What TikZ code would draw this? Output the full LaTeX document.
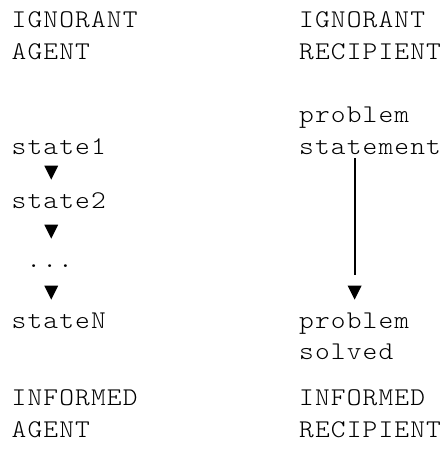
\documentclass[tikz,border=0pt]{standalone}
\usepackage{fontspec}
\setmonofont[FakeStretch=1.1,LetterSpace=4.5]{lmmonolt10-regular.otf}
\usetikzlibrary{shapes.geometric,calc}
\def\cw{15.9}
\begin{document}
\begin{tikzpicture}[x=1pt,y=-1pt,
  txt/.style={anchor=base west,inner sep=0pt,align=left,font=\ttfamily\fontsize{25.5}{31.5}\selectfont},
  tri/.style={isosceles triangle,isosceles triangle apex angle=53.13,shape border rotate=-90,
    fill=black,draw=none,inner sep=0pt,minimum width=14pt,minimum height=14pt},
  stem/.style={line width=1.8pt}]
 \useasboundingbox (0,0) rectangle (444,451);
 \node[txt] (ia) at (11.5,59) {IGNORANT\\AGENT};
 \node[txt] (ir) at (299,59) {IGNORANT\\RECIPIENT};
 \node[txt] (ps) at (299,154) {problem\\statement};
 \node[txt] (s1) at (11.5,154) {state1};
 \node[txt] (s2) at (11.5,208) {state2};
 \node[txt] (dots) at (11.5,267) {\hphantom{.}...};
 \node[txt] (sN) at (11.5,328) {stateN};
 \node[txt] (pd) at (299,359.5) {problem\\solved};
 \node[txt] (fa) at (11.5,437) {INFORMED\\AGENT};
 \node[txt] (fr) at (299,437) {INFORMED\\RECIPIENT};
 \path (s1.base west) -- (s2.base west) node[tri,xshift=2.5*\cw pt,yshift=38pt] (t1) {};
 \path (s2.base west) -- (dots.base west) node[tri,xshift=2.5*\cw pt,yshift=38pt] (t2) {};
 \path (dots.base west) -- (sN.base west) node[tri,xshift=2.5*\cw pt,yshift=38pt] (t3) {};
 \draw[stem] ($(ps.base west)+(3.5*\cw,4)$) -- ($(pd.base west)+(3.5*\cw,-84.5)$)
   node[tri,yshift=-15pt] (t4) {};
\end{tikzpicture}
\end{document}
